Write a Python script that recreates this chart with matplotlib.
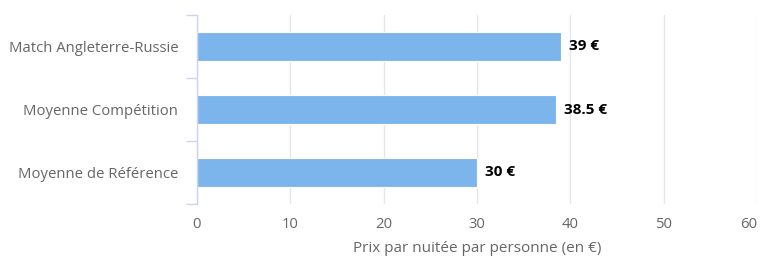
import matplotlib
matplotlib.use("Agg")
import matplotlib.pyplot as plt
from matplotlib.ticker import FixedLocator

categories = ["Match Angleterre-Russie", "Moyenne Compétition", "Moyenne de Référence"]
values = [39, 38.5, 30]
value_labels = ["39 €", "38.5 €", "30 €"]
x_ticks = [0, 10, 20, 30, 40, 50, 60]
x_title = "Prix par nuitée par personne (en €)"

plt.rcParams['font.family'] = ['Open Sans', 'DejaVu Sans']

fig = plt.figure(figsize=(7.64, 2.57), dpi=100)
ax = fig.add_axes([197/764, 1-204/257, (757-197)/764, (204-15)/257])

ypos = list(range(len(categories)))
ax.barh(ypos, values, height=0.47, color="#7cb5ec", edgecolor="white", linewidth=0.8, zorder=3)
ax.set_ylim(len(categories)-0.5, -0.5)
ax.set_xlim(x_ticks[0], x_ticks[-1])
ax.set_xticks(x_ticks)
ax.set_yticks(ypos)
ax.set_yticklabels(categories)
ax.yaxis.set_minor_locator(FixedLocator([-0.5 + i for i in range(len(categories)+1)]))
ax.tick_params(axis='y', which='major', length=0, pad=13.5, labelsize=10.7, labelcolor="#666666")
ax.tick_params(axis='y', which='minor', length=8, color="#ccd6eb", width=1)
ax.tick_params(axis='x', length=0, pad=9.5, labelsize=10.7, labelcolor="#666666")
ax.grid(axis='x', color="#e6e6e6", linewidth=1, zorder=0)
for s in ['top', 'right', 'bottom']:
    ax.spines[s].set_visible(False)
ax.spines['left'].set_color("#ccd6eb")
ax.spines['left'].set_linewidth(1)
ax.spines['left'].set_zorder(4)

# last x tick label kept inside the figure, as in the reference
ax.get_xticklabels()[-1].set_horizontalalignment('right')

for y, v, lab in zip(ypos, values, value_labels):
    ax.annotate(lab, (v, y), xytext=(5.5, 0), textcoords='offset points',
                va='center', ha='left', fontsize=11, fontweight='bold', color='black')

ax.set_xlabel(x_title, fontsize=11, color="#666666", labelpad=6.5)

fig.savefig("out.png", dpi=100)
